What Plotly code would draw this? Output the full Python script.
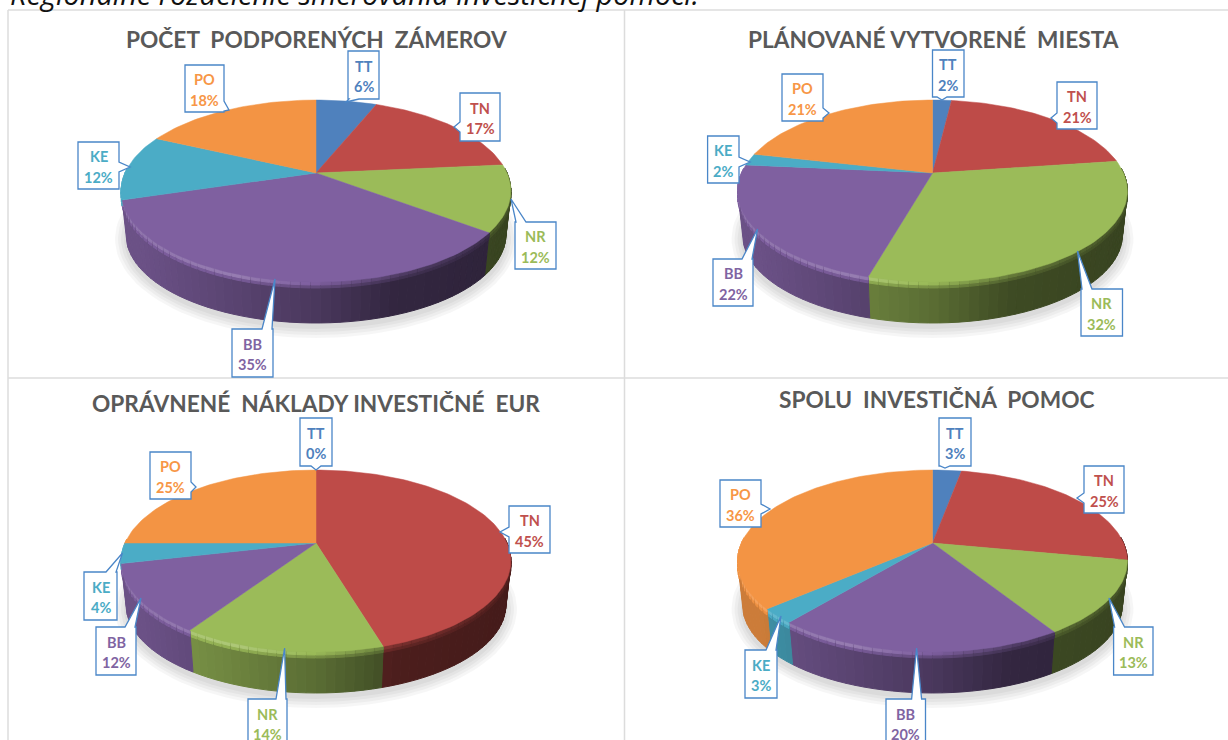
import math
import numpy as np
import plotly.graph_objects as go

# ---------- data ----------
categories = ["TT", "TN", "NR", "BB", "KE", "PO"]
titles = ["POČET  PODPORENÝCH  ZÁMEROV", "PLÁNOVANÉ VYTVORENÉ  MIESTA",
          "OPRÁVNENÉ  NÁKLADY INVESTIČNÉ  EUR", "SPOLU  INVESTIČNÁ  POMOC"]
pocet_zamerov = [6.1, 17.4, 11.8, 35.0, 11.7, 18.0]
vytvorene_miesta = [1.9, 20.9, 31.6, 22.1, 2.1, 21.4]
opravnene_naklady = [0.0, 45.4, 13.9, 12.1, 3.6, 25.0]
investicna_pomoc = [2.9, 25.1, 13.1, 19.9, 2.6, 36.4]
series = [pocet_zamerov, vytvorene_miesta, opravnene_naklady, investicna_pomoc]
heading = "Regionálne rozdelenie smerovania investičnej pomoci."

# ---------- style / layout ----------
colors = [(79, 129, 189), (190, 75, 72), (155, 187, 89), (127, 96, 160), (75, 172, 198), (243, 148, 68)]
text_colors = ["#4f81bd", "#c0504d", "#9bbb59", "#8064a2", "#4bacc6", "#f79646"]
centers = [(316, 173), (932.5, 173), (316, 543), (932.5, 543)]
title_pos = [(316, 39), (933, 39), (316, 403), (936, 399)]
# callout: box x0, x1, y0, y1, pointer tip x, y  (same order as categories)
callouts = [
    [(348, 379, 51, 99, 346, 102), (460, 500, 93, 141, 454, 127), (515, 556, 222, 269, 511, 199),
     (232, 273, 329, 377, 275, 279), (78, 119, 142, 189, 130, 167), (185, 224, 65, 112, 229, 110)],
    [(932.5, 964, 50, 97, 942, 100), (1057, 1097, 82, 129, 1051, 118), (1081, 1122.5, 289, 336, 1077.5, 251),
     (713, 753, 259, 306, 757.6, 229), (707.6, 739, 136, 183, 750, 162), (782, 823, 74, 121, 829, 113)],
    [(300, 332, 418, 466, 316, 470), (509, 550, 506, 553, 500, 532), (248, 287, 699, 747, 284.6, 648),
     (96, 136, 627, 675, 141, 598), (84, 117, 572, 620, 122.5, 553), (150, 191, 452, 499, 196, 487)],
    [(939, 971, 418, 466, 945, 468), (1084, 1124, 466, 513, 1077, 498), (1113.6, 1153, 627, 675, 1109, 598),
     (886, 925.5, 699, 747, 916.6, 648), (745, 777, 650, 698, 781, 616), (720, 761, 480, 527, 770, 509)],
]
K = 0.198
A = 191.0
B = 87.4
ELL_CY = 18.0
BOT_SX = 190 / 195
BOT_SY = 88 / 91
BOT_CY = 62.0
FONT = "Lato"


def top_pt(theta, r=1.0):
    u, v = r * np.sin(theta), -r * np.cos(theta)
    w = 1 - K * v
    return A * u / w, B * v / w


def bot_pt(theta):
    x, y = top_pt(theta)
    return x * BOT_SX, (y - ELL_CY) * BOT_SY + BOT_CY


def shade(rgb, f):
    if f <= 1:
        c = [v * f for v in rgb]
    else:
        c = [v + (255 - v) * (f - 1) for v in rgb]
    return "rgb(%d,%d,%d)" % tuple(int(round(v)) for v in c)


fig = go.Figure()


def poly(xs, ys, color, lw=1.0):
    fig.add_trace(go.Scatter(x=list(xs), y=list(ys), mode="lines", fill="toself", fillcolor=color,
                             line=dict(color=color, width=lw), hoverinfo="skip", showlegend=False))


for (cx, cy), vals in zip(centers, series):
    # soft ground shadow
    tt = np.linspace(0, 2 * np.pi, 120)
    for grow in (11, 8, 5, 2):
        sx = cx + (190 + grow) * np.sin(tt)
        sy = cy + BOT_CY + 4 + (88 + grow) * np.cos(tt)
        poly(sx, sy, "rgba(0,0,0,0.035)", 0)

    total = sum(vals)
    edges = np.cumsum([0] + list(vals)) / total * 2 * np.pi
    # side wall with a horizontal light gradient, plus the bevel on the rim
    for i, rgb in enumerate(colors):
        a0, a1 = edges[i], edges[i + 1]
        if a1 <= a0:
            continue
        n = max(1, int(math.ceil((a1 - a0) / math.radians(2.5))))
        steps = np.linspace(a0, a1, n + 1)
        for s0, s1 in zip(steps[:-1], steps[1:]):
            mid = (s0 + s1) / 2
            vm = -math.cos(mid)
            if vm < -0.05:
                continue
            t = (top_pt(mid)[0] / 195 + 1) / 2
            wall = float(np.interp(t, [0.0, 0.05, 0.5, 0.7, 1.0], [0.84, 0.84, 0.58, 0.40, 0.36]))
            bev = float(np.interp(t, [0.0, 0.3, 0.5, 0.72, 1.0], [1.12, 1.18, 0.98, 0.62, 0.45]))
            tx0, ty0 = top_pt(s0)
            tx1, ty1 = top_pt(s1)
            bx0, by0 = bot_pt(s0)
            bx1, by1 = bot_pt(s1)
            if not (vm < 0.28 and t < 0.5):
                poly([cx + tx0, cx + tx1, cx + bx1, cx + bx0, cx + tx0],
                     [cy + ty0, cy + ty1, cy + by1, cy + by0, cy + ty0], shade(rgb, wall))
            poly([cx + tx0, cx + tx1, cx + tx1, cx + tx0, cx + tx0],
                 [cy + ty0, cy + ty1, cy + ty1 + 6, cy + ty0 + 6, cy + ty0],
                 shade(rgb, (bev + wall) / 2))
            poly([cx + tx0, cx + tx1, cx + tx1, cx + tx0, cx + tx0],
                 [cy + ty0, cy + ty1, cy + ty1 + 3, cy + ty0 + 3, cy + ty0], shade(rgb, bev))
    # top faces
    for i, rgb in enumerate(colors):
        a0, a1 = edges[i], edges[i + 1]
        if a1 <= a0:
            continue
        th = np.linspace(a0, a1, max(3, int((a1 - a0) / math.radians(1.5))))
        x, y = top_pt(th)
        poly(np.r_[cx, cx + x, cx], np.r_[cy, cy + y, cy], shade(rgb, 1.0), 0.5)

# ---------- callouts ----------
shapes = []
annotations = []


def callout_path(x0, x1, y0, y1, tx, ty):
    hw = 5
    if ty < y0 or ty > y1:
        c = min(max(tx, x0 + hw + 1), x1 - hw - 1)
        if ty < y0:
            pts = [(x0, y0), (c - hw, y0), (tx, ty), (c + hw, y0), (x1, y0), (x1, y1), (x0, y1)]
        else:
            pts = [(x0, y0), (x1, y0), (x1, y1), (c + hw, y1), (tx, ty), (c - hw, y1), (x0, y1)]
    else:
        c = min(max(ty, y0 + hw + 1), y1 - hw - 1)
        if tx < x0:
            pts = [(x0, y0), (x1, y0), (x1, y1), (x0, y1), (x0, c + hw), (tx, ty), (x0, c - hw)]
        else:
            pts = [(x0, y0), (x1, y0), (x1, c - hw), (tx, ty), (x1, c + hw), (x1, y1), (x0, y1)]
    return "M" + " L".join("%.1f,%.1f" % p for p in pts) + " Z"


for vals, boxes in zip(series, callouts):
    total = sum(vals)
    for name, v, color, box in zip(categories, vals, text_colors, boxes):
        x0, x1, y0, y1, tx, ty = box
        shapes.append(dict(type="path", path=callout_path(x0, x1, y0, y1, tx, ty), xref="x", yref="y",
                           fillcolor="white", line=dict(color="#4a86c8", width=1.3), layer="above"))
        xm, ym = (x0 + x1) / 2, (y0 + y1) / 2
        for txt, dy in ((name, -9), ("%d%%" % round(v / total * 100), 11.5)):
            annotations.append(dict(x=xm, y=ym + dy, text="<b>%s</b>" % txt, showarrow=False,
                                    font=dict(family=FONT, size=14.5, color=color),
                                    xanchor="center", yanchor="middle"))

for t, (x, y) in zip(titles, title_pos):
    annotations.append(dict(x=x, y=y, text="<b>%s</b>" % t.replace("  ", "\u00a0\u00a0"), showarrow=False,
                            font=dict(family=FONT, size=22.7, color="#595959"),
                            xanchor="center", yanchor="middle"))
annotations.append(dict(x=8, y=0, yshift=7, text="<i>%s</i>" % heading, showarrow=False,
                        font=dict(family="Open Sans", size=29, color="#111111"),
                        xanchor="left", yanchor="middle"))

# table frame
GRID = "#dcdcdc"
for x0, y0, x1, y1 in [(8, 10, 1228, 10), (8, 378, 1228, 378), (8, 10, 8, 740), (624.5, 10, 624.5, 740)]:
    shapes.insert(0, dict(type="line", x0=x0, y0=y0, x1=x1, y1=y1, xref="x", yref="y",
                          line=dict(color=GRID, width=1.5), layer="below"))

fig.update_layout(
    width=1228, height=740, margin=dict(l=0, r=0, t=0, b=0, pad=0),
    paper_bgcolor="white", plot_bgcolor="white", showlegend=False,
    xaxis=dict(range=[0, 1228], visible=False, fixedrange=True),
    yaxis=dict(range=[740, 0], visible=False, fixedrange=True),
    shapes=shapes, annotations=annotations,
)
fig.write_html("out.html", config=dict(displayModeBar=False),
               post_script="document.body.style.margin='0';document.body.style.overflow='hidden';")
